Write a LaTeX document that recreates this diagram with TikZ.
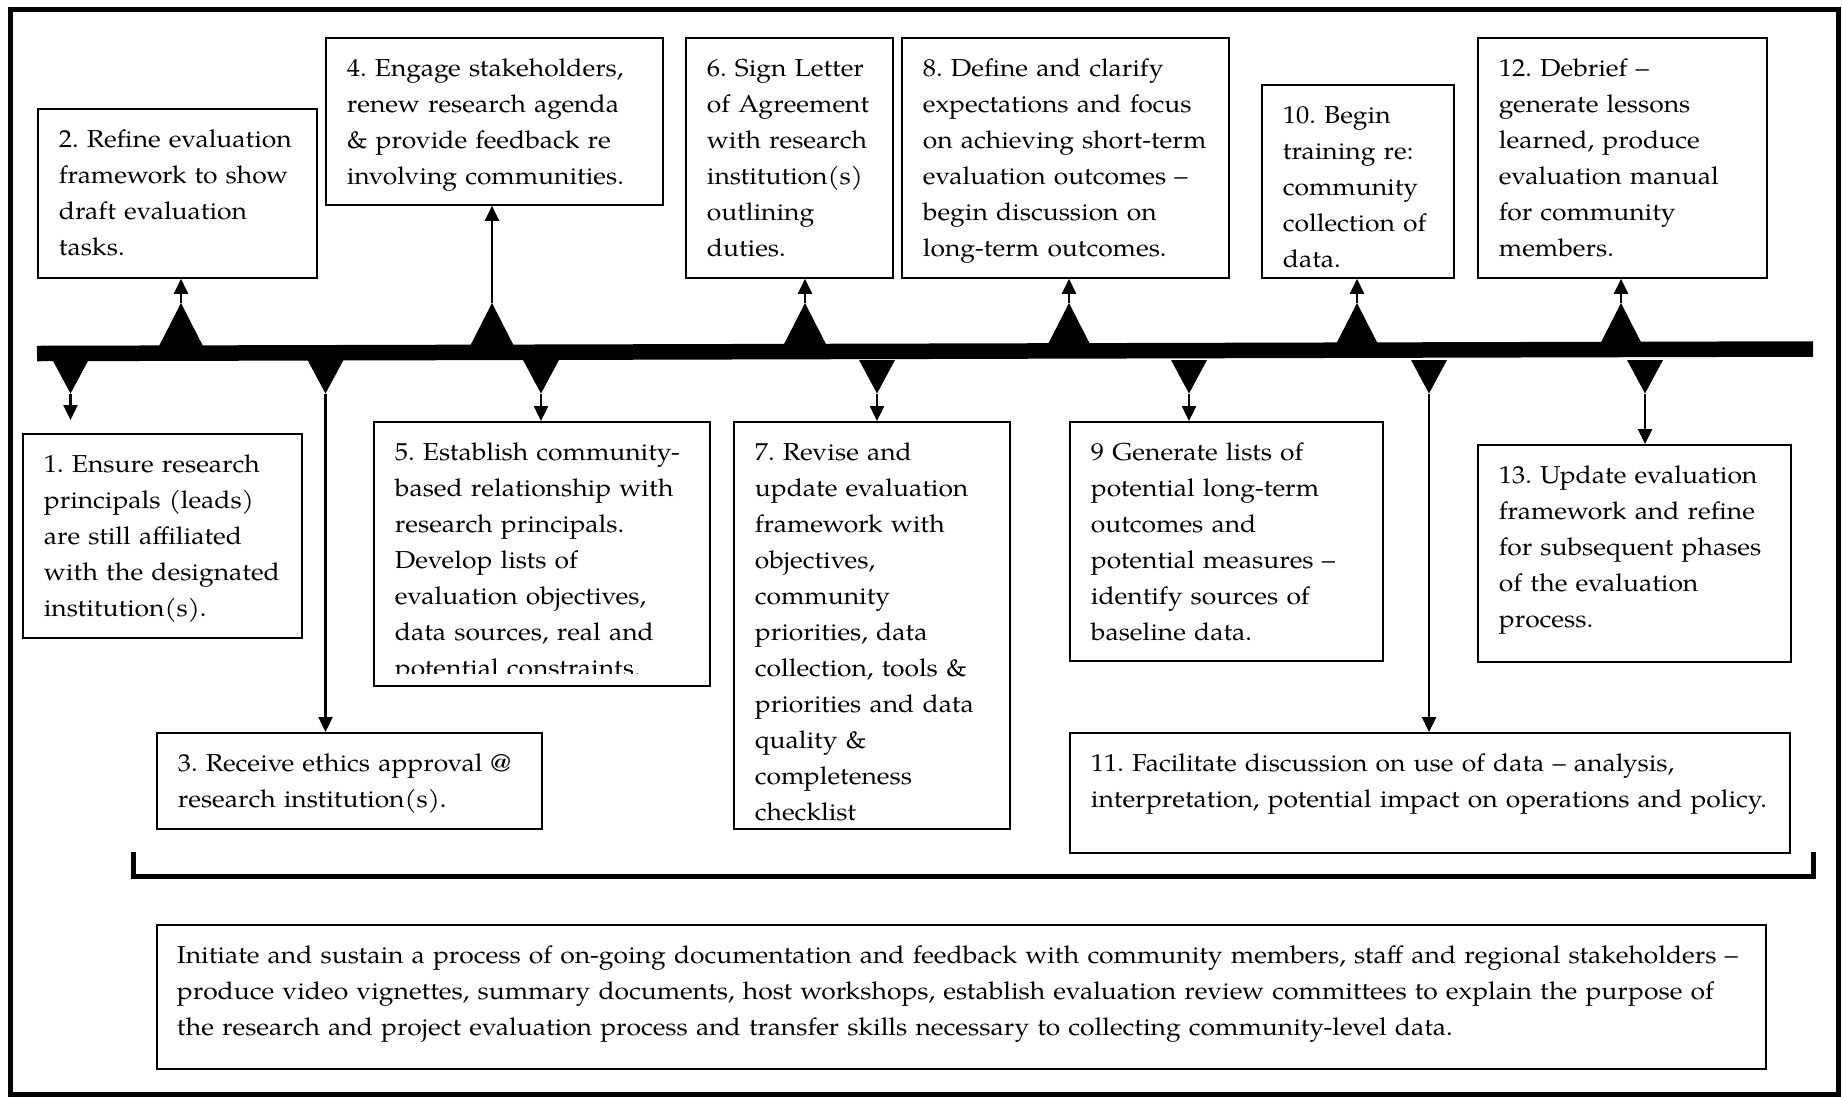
\documentclass[tikz,border=0pt]{standalone}
\usepackage{fontspec}
\IfFontExistsTF{TeX Gyre Pagella}
  {\setmainfont{TeX Gyre Pagella}[FakeStretch=1.08]}
  {\setmainfont{Liberation Serif}}
\usetikzlibrary{arrows.meta,calc}

% lines of a step box, one per row, never re-wrapped
\newcommand\steplines[1]{\begin{tabular}[t]{@{}l@{}}#1\end{tabular}}

% triangle on the timeline pointing up: name, x, y of bar top
\newcommand\uptri[3]{%
  \coordinate (#1) at (#2,303);
  \fill (#1) -- ++({0.51*(#3+3-303)},{#3+3-303}) -- ++({-1.02*(#3+3-303)},0) -- cycle;}
% triangle under the timeline pointing down: name, x
\newcommand\downtri[2]{%
  \coordinate (#1) at (#2,393.5);
  \fill ({#2-18},360) -- ({#2+18},360) -- (#1) -- cycle;}

\tikzset{
  stepbox/.style 2 args={draw, line width=1.8, inner xsep=21, inner ysep=0,
    anchor=north west, text width={#1-42}, text height=39, text depth={#2-39},
    font=\fontsize{24.5}{36}\selectfont\frenchspacing},
  link/.style={line width=2.4, -{Triangle[length=15pt,width=14pt]}},
}

\begin{document}
\begin{tikzpicture}[x=1pt,y=-1pt]
\useasboundingbox (0,0) rectangle (1843,1096);

% outer frame
\draw[line width=5] (10.3,9.5) rectangle (1838.3,1094);

% timeline bar
\coordinate (tlL) at (37,353.5);
\coordinate (tlR) at (1813,349);
\draw[line width=15.5] (tlL) -- (tlR);

% markers above the bar
\uptri{u2}{181}{345.35}
\uptri{u4}{492}{344.6}
\uptri{u6}{805}{343.8}
\uptri{u8}{1069}{343.15}
\uptri{u10}{1357}{342.4}
\uptri{u12}{1621}{341.75}

% markers below the bar
\downtri{d1}{70.5}
\downtri{d3}{325.5}
\downtri{d5}{541}
\downtri{d7}{877}
\downtri{d9}{1189}
\downtri{d11}{1429}
\downtri{d13}{1645}

% upper steps
\node[stepbox={279}{169}] (b2) at (37,108) {\steplines{2. Refine evaluation\\framework to show\\draft evaluation\\tasks.}};
\node[stepbox={337}{167}] (b4) at (325,37) {\steplines{4. Engage stakeholders,\\renew research agenda\\\& provide feedback re\\involving communities.}};
\node[stepbox={207}{240}] (b6) at (685,37) {\steplines{6. Sign Letter\\of Agreement\\with research\\institution(s)\\outlining\\duties.}};
\node[stepbox={327}{240}] (b8) at (901,37) {\steplines{8. Define and clarify\\expectations and focus\\on achieving short-term\\evaluation outcomes –\\begin discussion on\\long-term outcomes.}};
\node[stepbox={192}{193}] (b10) at (1261,84) {\steplines{10. Begin\\training re:\\community\\collection of\\data.}};
\node[stepbox={289}{240}] (b12) at (1477,37) {\steplines{12. Debrief –\\generate lessons\\learned, produce\\evaluation manual\\for community\\members.}};

% lower steps
\node[stepbox={279}{204}] (b1) at (22,433) {\steplines{1. Ensure research\\principals (leads)\\are still affiliated\\with the designated\\institution(s).}};
\node[stepbox={385}{96}] (b3) at (156,732) {\steplines{3. Receive ethics approval @\\research institution(s).}};
\node[stepbox={336}{264}] (b5) at (373,421) {\steplines{5. Establish community-\\based relationship with\\research principals.\\Develop lists of\\evaluation objectives,\\data sources, real and\\potential constraints.}};
% the last line of step 5 is cut off by the box
\fill[white] (374.5,673.5) rectangle (707.5,684);
\node[stepbox={276}{407}] (b7) at (733,421) {\steplines{7. Revise and\\update evaluation\\framework with\\objectives,\\community\\priorities, data\\collection, tools \&\\priorities and data\\quality \&\\completeness\\checklist}};
\node[stepbox={313}{239}] (b9) at (1069,421) {\steplines{9 Generate lists of\\potential long-term\\outcomes and\\potential measures –\\identify sources of\\baseline data.}};
\node[stepbox={720}{120}] (b11) at (1069,732) {\steplines{11. Facilitate discussion on use of data – analysis,\\interpretation, potential impact on operations and policy.}};
\node[stepbox={313}{217}] (b13) at (1477,444) {\steplines{13. Update evaluation\\framework and refine\\for subsequent phases\\of the evaluation\\process.}};

% connectors from the markers to the steps
\draw[link] (u2) -- (u2 |- b2.south);
\draw[link] (u4) -- (u4 |- b4.south);
\draw[link] (u6) -- (u6 |- b6.south);
\draw[link] (u8) -- (u8 |- b8.south);
\draw[link] (u10) -- (u10 |- b10.south);
\draw[link] (u12) -- (u12 |- b12.south);
\draw[link] (d1) -- ($(d1 |- b1.north)+(0,-13)$);
\draw[link] (d3) -- (d3 |- b3.north);
\draw[link] (d5) -- (d5 |- b5.north);
\draw[link] (d7) -- (d7 |- b7.north);
\draw[link] (d9) -- (d9 |- b9.north);
\draw[link] (d11) -- (d11 |- b11.north);
\draw[link] (d13) -- (d13 |- b13.north);

% bracket under all steps
\coordinate (brL) at (133.3,852);
\coordinate (brR) at (1813.3,852);
\draw[line width=5.5, miter limit=4] (brL) -- ++(0,24.5) -| (brR);

% ongoing activity
\node[stepbox={1609}{144}, inner xsep=20, text width=1569] (note) at (156,924) {\steplines{Initiate and sustain a process of on-going documentation and feedback with community members, staff and regional stakeholders –\\produce video vignettes, summary documents, host workshops, establish evaluation review committees to explain the purpose of\\the research and project evaluation process and transfer skills necessary to collecting community-level data.}};
\end{tikzpicture}
\end{document}
